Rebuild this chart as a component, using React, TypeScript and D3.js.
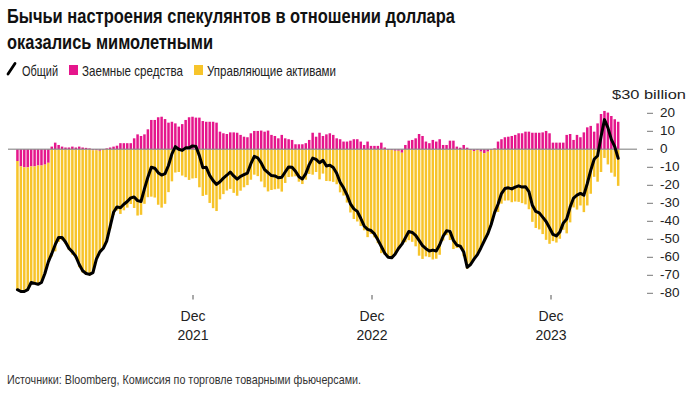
import * as d3 from "d3";

// CFTC weekly positioning, $ billion (leveraged funds / asset managers)
const startWeek = "2020-12-08";
const leveraged = [
  -6.5, -9.5, -10, -10, -9.5, -9.5, -9, -9, -8.5, -7.5,
  1.5, 3.7, 2.4, 1.5, 1, 1, 1.5, 1, 1.5, 1,
  0.8, 0.5, -0.5, -0.5, -0.8, -0.3, 0.5, 1, 1.5, 2,
  3.4, 3.4, 3.4, 3.4, 6.1, 8.3, 7.4, 8.3, 11.1, 16.3,
  16.3, 17.8, 18.1, 16.8, 14.8, 15.3, 14.4, 12.6, 14, 16.3,
  17.8, 18.1, 17.6, 17.6, 15.7, 15.3, 15.3, 15.3, 14.8, 9.8,
  8.9, 8.5, 9.4, 9.4, 9.2, 8, 7, 6.7, 8.9, 10.2,
  10.2, 10.4, 9.8, 10.4, 8, 7.4, 6.1, 8, 6.1, 5.6,
  5.2, 2.8, 2.8, 2.8, 3.4, 5.2, 9.2, 7, 9.2, 7.4,
  8.3, 8.9, 8, 6.1, 5.6, 4.3, 4.3, 4.8, 5.6, 5.6,
  4.3, 2.4, 4.3, 1.9, 1.9, 1.9, 3.7, 1, -0.4, -0.4,
  -0.8, -0.8, -1.9, 2.4, 4.8, 5.2, 6.1, 8.5, 7.4, 4.3,
  3.4, 5.2, 4.3, 5.6, 2.4, 2.4, 4.8, 4.8, 1.5, 0.9,
  2.4, 0.9, -0.4, -1, -0.4, -1.3, -2.2, -1.3, -0.4, 0.5,
  4.3, 5.6, 6.7, 7, 7.4, 8, 8.9, 8.9, 9.8, 9.8,
  9.2, 9.2, 9.2, 9.4, 10.2, 8.9, 3.7, 3.7, 3.7, 3.7,
  8, 8.5, 5.2, 8, 6.7, 9.4, 12.2, 13, 9.8, 14.4,
  19.6, 21.3, 20.4, 18.5, 16.7, 15.3,
];
const assetManagers = [
  -71.5, -69.5, -69, -68, -64.5, -65, -66, -65, -60.5, -55,
  -59.5, -56.7, -51.4, -50.5, -52.5, -56, -58.5, -60.5, -65.5, -68.5,
  -69.8, -70, -68, -60.5, -56.2, -54.7, -51.5, -44, -36.5, -34,
  -35.9, -33.9, -32.4, -30.4, -32.6, -36.8, -36.4, -30.3, -26.6, -26.3,
  -26.8, -30.8, -32.4, -30.3, -23.8, -17.8, -12.9, -12.6, -14.6, -15.5,
  -17, -16.2, -16, -21.1, -25.9, -25.3, -29.8, -32.7, -34.3, -27.8,
  -24.9, -22.9, -22, -24.2, -25.8, -23, -21.1, -19.9, -16.9, -14.1,
  -14.9, -17.9, -21.1, -23.4, -22.6, -22.2, -21.9, -23.5, -18.7, -15.4,
  -15.2, -15, -18, -19.3, -16.9, -13.7, -14.1, -12.6, -16.7, -13.5,
  -17.6, -17.7, -18.1, -19.4, -23.9, -25.7, -29.6, -35.1, -38.7, -40.1,
  -42.6, -45, -48.8, -47, -48.9, -52.2, -57.7, -58.7, -59.6, -59.9,
  -57.5, -54.3, -50.8, -51.6, -50.5, -51.4, -53.9, -59.1, -60.9, -59.5,
  -59.9, -61.2, -60.8, -58.6, -50.7, -47.7, -50.4, -55.4, -54.8, -54.7,
  -59.4, -66.4, -63.6, -60, -58.1, -53.5, -48.6, -45.7, -41.4, -35.7,
  -34.8, -30.2, -28.5, -28.4, -29.4, -29, -29.2, -29.9, -30.6, -33.3,
  -40.3, -43.7, -44.5, -47.1, -50.3, -52.5, -51, -51.8, -49.7, -44.7,
  -46.7, -40.6, -32.3, -33.5, -31.2, -34.9, -31.2, -24.7, -15.3, -18,
  -12.6, -4.8, -8.4, -13, -15.2, -20.3,
];
const yTicks = [20, 10, 0, -10, -20, -30, -40, -50, -60, -70, -80];
const xTickDates = ["2021-12-01", "2022-12-01", "2023-12-01"];
const xTickLabels = [["Dec", "2021"], ["Dec", "2022"], ["Dec", "2023"]];

const MAGENTA = "#e5168c";
const YELLOW = "#f7c42a";

export default function App() {
  const width = 689;
  const height = 397;
  const parse = d3.utcParse("%Y-%m-%d");
  const t0 = parse(startWeek)!;

  const rows = leveraged.map((lev, i) => ({
    date: d3.utcDay.offset(t0, i * 7),
    lev,
    am: assetManagers[i],
  }));

  const x = d3
    .scaleUtc()
    .domain([parse(xTickDates[0])!, parse(xTickDates[2])!])
    .range([193, 551]);
  const y = d3.scaleLinear().domain([-80, 30]).range([293.3, 95.3]);

  const stack = d3
    .stack<any>()
    .keys(["lev", "am"])
    .offset(d3.stackOffsetDiverging)(rows);

  const barW = 2.5;
  const line = d3
    .line<any>()
    .x((d) => x(d.date))
    .y((d) => y(d.lev + d.am));

  const font = '"Liberation Sans", Arial, sans-serif';

  return (
    <svg
      width={width}
      height={height}
      style={{ position: "absolute", left: 0, top: 0, background: "white", fontFamily: font }}
    >
      <text x={7} y={23} fontSize={20.5} fontWeight="bold" fill="#111" textLength={448} lengthAdjust="spacingAndGlyphs">
        Бычьи настроения спекулянтов в отношении доллара
      </text>
      <text x={7} y={48.5} fontSize={20.5} fontWeight="bold" fill="#111" textLength={206} lengthAdjust="spacingAndGlyphs">
        оказались мимолетными
      </text>

      {/* legend */}
      <line x1={8} y1={74} x2={15} y2={63.5} stroke="#000" strokeWidth={2.8} strokeLinecap="round" />
      <text x={22} y={75.5} fontSize={14.5} fill="#222" textLength={36} lengthAdjust="spacingAndGlyphs">Общий</text>
      <rect x={69} y={65} width={9} height={10} fill={MAGENTA} />
      <text x={82} y={75.5} fontSize={14.5} fill="#222" textLength={101} lengthAdjust="spacingAndGlyphs">Заемные средства</text>
      <rect x={194} y={65} width={9} height={10} fill={YELLOW} />
      <text x={207} y={75.5} fontSize={14.5} fill="#222" textLength={129} lengthAdjust="spacingAndGlyphs">Управляющие активами</text>

      {/* bars */}
      {stack.map((s) => (
        <g key={s.key} fill={s.key === "lev" ? MAGENTA : YELLOW}>
          {s.map((d, i) => (
            <rect
              key={i}
              x={x(d.data.date) - barW / 2}
              width={barW}
              y={y(Math.max(d[0], d[1]))}
              height={Math.abs(y(d[0]) - y(d[1]))}
            />
          ))}
        </g>
      ))}

      <line x1={8} x2={637} y1={y(0)} y2={y(0)} stroke="#888" strokeWidth={1.5} opacity={0.75} />

      <path d={line(rows) ?? ""} fill="none" stroke="#000" strokeWidth={3} strokeLinejoin="round" strokeLinecap="round" />

      {/* y axis */}
      <text x={686} y={y(30)} fontSize={13.5} fill="#222" textAnchor="end" dominantBaseline="middle" textLength={74} lengthAdjust="spacingAndGlyphs">
        $30 billion
      </text>
      {yTicks.map((t) => (
        <g key={t}>
          <line x1={647} x2={653} y1={y(t)} y2={y(t)} stroke="#777" strokeWidth={1} />
          <text x={660} y={y(t)} fontSize={13.5} fill="#222" dominantBaseline="middle">
            {t}
          </text>
        </g>
      ))}

      {/* x axis */}
      {xTickDates.map((s, i) => {
        const xx = x(parse(s)!);
        return (
          <g key={s}>
            <line x1={xx} x2={xx} y1={295} y2={299.5} stroke="#555" strokeWidth={1} />
            <text x={xx} y={317} fontSize={14} fill="#222" textAnchor="middle" dominantBaseline="middle">
              {xTickLabels[i][0]}
            </text>
            <text x={xx} y={336} fontSize={14} fill="#222" textAnchor="middle" dominantBaseline="middle">
              {xTickLabels[i][1]}
            </text>
          </g>
        );
      })}

      <text x={7} y={384} fontSize={13} fill="#333" textLength={354} lengthAdjust="spacingAndGlyphs">
        Источники: Bloomberg, Комиссия по торговле товарными фьючерсами.
      </text>
    </svg>
  );
}
